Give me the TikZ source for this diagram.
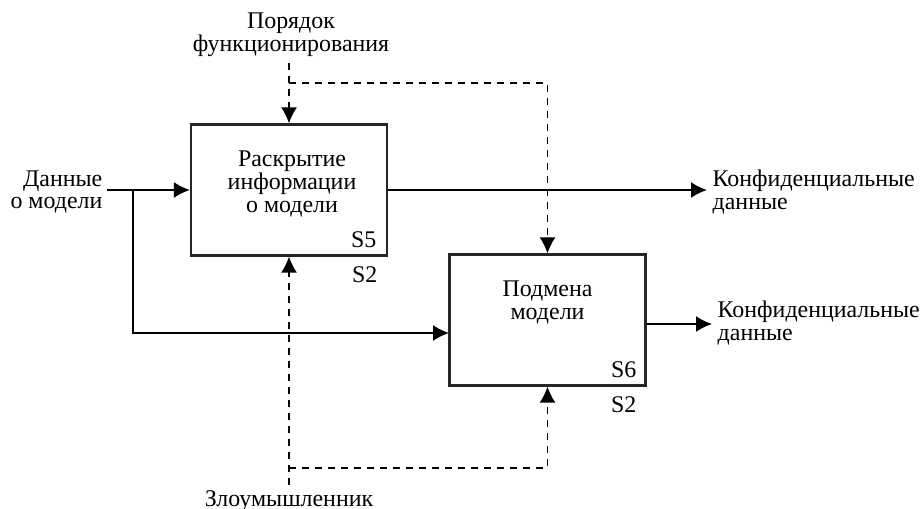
\documentclass[tikz,border=0pt]{standalone}
\usepackage{fontspec}
\setmainfont{Liberation Serif}
\usetikzlibrary{arrows.meta}

\begin{document}
\begin{tikzpicture}[line cap=butt,line join=miter,>={Latex[length=1.6mm,width=1.6mm]},
  blok/.style={draw=black!85,line width=0.65pt,minimum width=1.96cm,minimum height=1.31cm,inner sep=0pt},
  txt/.style={inner sep=0pt,align=center,font=\fontsize{6.8}{6.5}\selectfont},
  upr/.style={line width=0.45pt,dash pattern=on 2pt off 1.7pt,->},
  pot/.style={line width=0.5pt,->}]
  \useasboundingbox (0,0) rectangle (9.22,5.08);
  % blocks
  \node[blok] (r) at (2.89,3.18) {};
  \node[blok] (p) at (5.475,1.88) {};
  \node[txt,anchor=north] (rt) at ([xshift=0.03cm,yshift=-0.27cm]r.north) {Раскрытие\\информации\\о модели};
  \node[txt,anchor=north] (pt) at ([yshift=-0.27cm]p.north) {Подмена\\модели};
  \node[txt,anchor=base east] (s5) at (3.77,2.61) {S5};
  \node[txt,anchor=base east] (s2a) at (3.78,2.26) {S2};
  \node[txt,anchor=base east] (s6) at (6.37,1.31) {S6};
  \node[txt,anchor=base east] (s2b) at (6.37,0.96) {S2};
  % outer labels
  \node[txt,anchor=east,align=right] (dan) at (1.03,3.16) {Данные\\о модели};
  \node[txt,anchor=west,align=left] (konf1) at (7.12,3.16) {Конфиденциальные\\данные};
  \node[txt,anchor=west,align=left] (konf2) at (7.17,1.85) {Конфиденциальные\\данные};
  \node[txt,anchor=south] (por) at (2.91,4.51) {Порядок\\функционирования};
  \node[txt,anchor=base] (zlo) at (2.89,0.02) {Злоумышленник};
  % free ends
  \coordinate (din) at (1.07,3.18);
  \coordinate (razv) at (1.33,3.18);
  \coordinate (pin) at (4.49,1.75);
  \coordinate (out1) at (7.07,3.18);
  \coordinate (pout) at (6.46,1.84);
  \coordinate (out2) at (7.12,1.84);
  \coordinate (ctop) at (2.89,4.45);
  \coordinate (cbr) at (2.89,4.25);
  \coordinate (mbot) at (2.89,0.23);
  \coordinate (mbr) at (2.89,0.40);
  % arrows
  \draw[pot] (din) -- (r.west);
  \draw[pot] (razv) |- (pin);
  \draw[pot] (r.east) -- (out1);
  \draw[pot] (pout) -- (out2);
  \draw[upr] (ctop) -- (r.north);
  \draw[upr] (cbr) -| (p.north);
  \draw[upr] (mbot) -- (r.south);
  \draw[upr] (mbr) -| (p.south);
\end{tikzpicture}
\end{document}
